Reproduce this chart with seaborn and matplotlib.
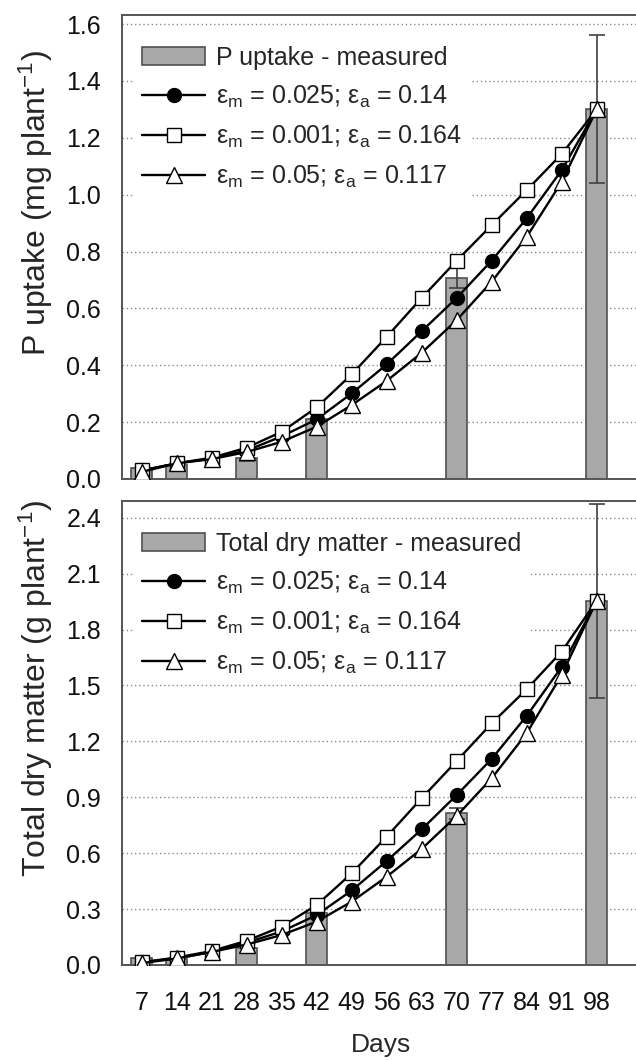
import numpy as np
import pandas as pd
import matplotlib
matplotlib.use("Agg")
import matplotlib.pyplot as plt
import seaborn as sns

# ---------------- data ----------------
days = [7, 14, 21, 28, 35, 42, 49, 56, 63, 70, 77, 84, 91, 98]
day_labels = [str(d) for d in days]

measured_days = [7, 14, 28, 42, 70, 98]
p_measured = [0.038, 0.049, 0.075, 0.212, 0.708, 1.30]
p_err = [0.0, 0.0, 0.012, 0.0, 0.035, 0.26]
dm_measured = [0.035, 0.03, 0.09, 0.28, 0.814, 1.955]
dm_err = [0.0, 0.0, 0.0, 0.0, 0.03, 0.52]

# P uptake simulations
p_sim_a = [0.030, 0.055, 0.072, 0.100, 0.150, 0.210, 0.301, 0.403, 0.520, 0.637, 0.768, 0.917, 1.086, 1.30]  # em=0.025; ea=0.14
p_sim_b = [0.030, 0.055, 0.075, 0.110, 0.166, 0.252, 0.368, 0.500, 0.637, 0.768, 0.893, 1.016, 1.143, 1.30]  # em=0.001; ea=0.164
p_sim_c = [0.025, 0.055, 0.070, 0.095, 0.131, 0.184, 0.260, 0.345, 0.444, 0.559, 0.694, 0.852, 1.045, 1.30]  # em=0.05; ea=0.117

# Total dry matter simulations
dm_sim_a = [0.015, 0.035, 0.070, 0.120, 0.180, 0.268, 0.400, 0.558, 0.728, 0.912, 1.106, 1.337, 1.600, 1.955]
dm_sim_b = [0.015, 0.040, 0.075, 0.130, 0.206, 0.322, 0.492, 0.689, 0.895, 1.095, 1.297, 1.480, 1.682, 1.955]
dm_sim_c = [0.010, 0.035, 0.070, 0.110, 0.161, 0.233, 0.340, 0.474, 0.623, 0.800, 1.002, 1.244, 1.557, 1.955]

sim_labels = [
    "ε$_\\mathregular{m}$ = 0.025; ε$_\\mathregular{a}$ = 0.14",
    "ε$_\\mathregular{m}$ = 0.001; ε$_\\mathregular{a}$ = 0.164",
    "ε$_\\mathregular{m}$ = 0.05; ε$_\\mathregular{a}$ = 0.117",
]
p_ticks = [0.0, 0.2, 0.4, 0.6, 0.8, 1.0, 1.2, 1.4, 1.6]
dm_ticks = [0.0, 0.3, 0.6, 0.9, 1.2, 1.5, 1.8, 2.1, 2.4]

# ---------------- style ----------------
sns.set_style("white")
plt.rcParams["font.family"] = ["Liberation Sans", "DejaVu Sans"]
plt.rcParams["mathtext.fontset"] = "custom"
plt.rcParams["mathtext.rm"] = "Liberation Sans"
plt.rcParams["mathtext.it"] = "Liberation Sans:italic"
plt.rcParams["mathtext.bf"] = "Liberation Sans:bold"

W, H = 636, 1061
fig = plt.figure(figsize=(W / 100, H / 100), dpi=100)

left_px, right_px = 122, 640
x0_px, step_px = 141.7, 35.0
ax_w = (right_px - left_px) / W
ax_h = 464 / H
ax1 = fig.add_axes([left_px / W, (H - 479) / H, ax_w, ax_h])
ax2 = fig.add_axes([left_px / W, (H - 965) / H, ax_w, ax_h])

xlim = ((left_px - x0_px) / step_px, (right_px - x0_px) / step_px)
pos = np.arange(len(days))
bar_color = "#a8a8a8"
edge_color = "#505050"
spine_color = "#555555"


def draw_panel(ax, meas, err, sims, bar_label, ticks, ytop, ylabel, lab_y):
    mdf = pd.DataFrame({"day": [str(d) for d in measured_days], "val": meas})
    sns.barplot(data=mdf, x="day", y="val", order=day_labels, ax=ax,
                color=bar_color, edgecolor=edge_color, linewidth=1.2,
                width=0.6, saturation=1, label=bar_label, zorder=2)
    mpos = [day_labels.index(str(d)) for d in measured_days]
    e = np.array(err)
    sel = e > 0
    ax.errorbar(np.array(mpos)[sel], np.array(meas)[sel], yerr=e[sel], fmt="none",
                ecolor="#404040", elinewidth=1.2, capsize=5.5, capthick=1.2, zorder=3)
    styles = [
        dict(marker="o", markerfacecolor="black", markeredgecolor="black"),
        dict(marker="s", markerfacecolor="white", markeredgecolor="black"),
        dict(marker="^", markerfacecolor="white", markeredgecolor="black"),
    ]
    sizes = [10, 9.5, 11]
    for vals, lab, st, ms in zip(sims, sim_labels, styles, sizes):
        sns.lineplot(x=pos, y=vals, ax=ax, color="black", linewidth=1.7,
                     markersize=ms, markeredgewidth=1.0, label=lab, zorder=4, **st)
    ax.set_xlim(*xlim)
    ax.set_ylim(0, ytop)
    ax.set_yticks(ticks)
    ax.set_yticklabels([f"{t:.1f}" for t in ticks])
    ax.set_xticks(pos)
    ax.set_xticklabels(day_labels)
    ax.yaxis.grid(True, linestyle=(0, (1, 2.0)), color="#8a8a8a", linewidth=1.0)
    ax.xaxis.grid(False)
    ax.set_axisbelow(True)
    for s in ["top", "left", "bottom"]:
        ax.spines[s].set_color(spine_color)
        ax.spines[s].set_linewidth(1.4)
    ax.spines["right"].set_visible(False)
    ax.tick_params(axis="both", direction="out", length=7, width=1.2, color=spine_color,
                   labelsize=18, colors="#111111")
    ax.tick_params(axis="y", pad=8)
    ax.tick_params(axis="x", pad=12)
    ax.set_xlabel("")
    ax.set_ylabel(ylabel, fontsize=23)
    ax.yaxis.set_label_coords(-0.13, lab_y)
    h, l = ax.get_legend_handles_labels()
    bi = l.index(bar_label)
    order = [bi] + [i for i in range(len(l)) if i != bi]
    leg = ax.legend([h[i] for i in order], [l[i] for i in order], loc="upper left",
                    bbox_to_anchor=(0.025, 0.95), fontsize=18,
                    frameon=True, fancybox=False, framealpha=1, facecolor="white",
                    edgecolor="none", handlelength=2.5, handleheight=0.75,
                    handletextpad=0.45, labelspacing=0.56, borderpad=0.3,
                    borderaxespad=0.0)
    leg.set_zorder(1.5)
    return ax


draw_panel(ax1, p_measured, p_err, [p_sim_a, p_sim_b, p_sim_c], "P uptake - measured",
           p_ticks, 1.632, "P uptake (mg plant$^{\\mathregular{-1}}$)", 0.595)
draw_panel(ax2, dm_measured, dm_err, [dm_sim_a, dm_sim_b, dm_sim_c], "Total dry matter - measured",
           dm_ticks, 2.49, "Total dry matter (g plant$^{\\mathregular{-1}}$)", 0.595)

ax1.tick_params(axis="x", labelbottom=False)
ax2.set_xlabel("Days", fontsize=19, labelpad=13)

fig.savefig("out.png", dpi=100)
